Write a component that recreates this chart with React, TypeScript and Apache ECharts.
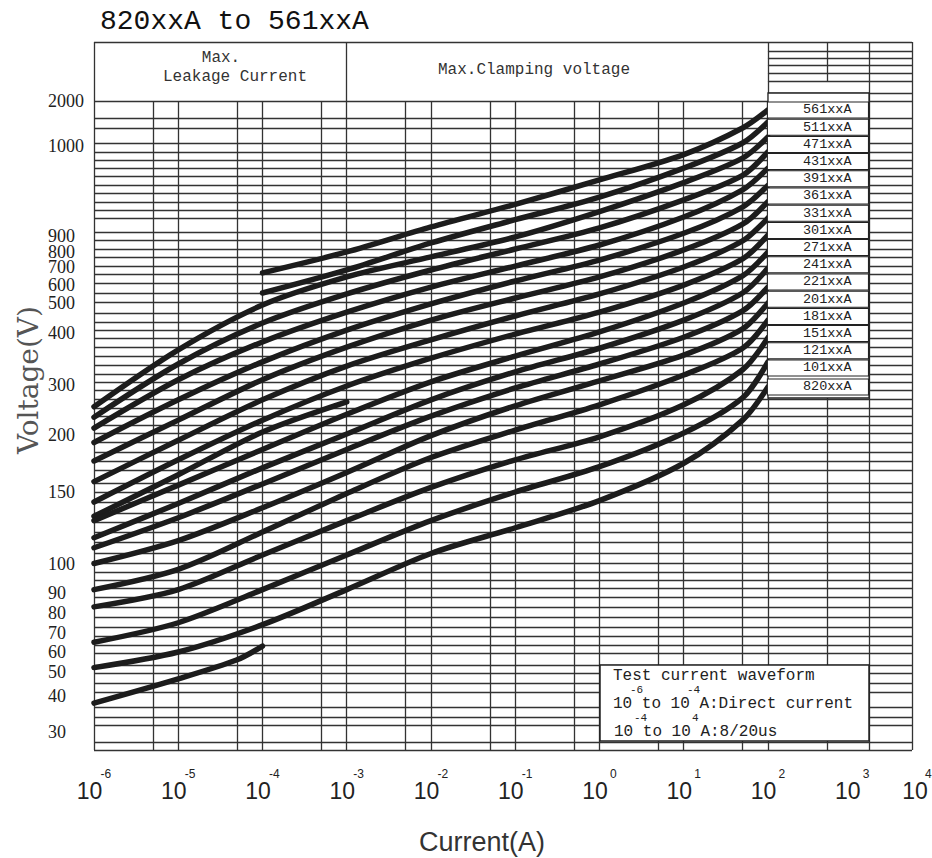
import React, { useEffect, useRef } from "react";
import * as echarts from "echarts";

// ---- data ----
// current sample points (A)
const currentA = [1e-6, 1e-5, 1e-4, 1e-3, 1e-2, 1e-1, 1, 10, 50, 100];

const modelNames = [
  "561xxA", "511xxA", "471xxA", "431xxA", "391xxA", "361xxA", "331xxA", "301xxA", "271xxA",
  "241xxA", "221xxA", "201xxA", "181xxA", "151xxA", "121xxA", "101xxA", "820xxA",
];

// voltage (V) read at each current point
const v561 = [null, null, 666, 797, 910, 935, 962, 990, 1393, 1798];
const v511 = [null, null, 554, 683, 855, 918, 943, 975, 1056, 1528];
const v471 = [256, 367, 493, 643, 765, 894, 927, 959, 986, 1191];
const v431 = [235, 340, 432, 549, 683, 816, 909, 940, 967, 993];
const v391 = [213, 310, 382, 469, 586, 706, 842, 921, 951, 975];
const v361 = [193, 270, 344, 408, 497, 620, 745, 903, 932, 956];
const v331 = [177, 229, 310, 372, 442, 527, 643, 810, 913, 938];
const v301 = [159, 195, 270, 336, 386, 456, 549, 700, 868, 920];
const v271 = [143, 178, 229, 298, 351, 397, 469, 597, 752, 901];
const v241 = [130, 156, 187, 241, 306, 355, 402, 500, 649, 797];
const v221 = [118, 142, 171, 201, 270, 325, 370, 442, 554, 694];
const v201 = [111, 132, 157, 187, 237, 294, 340, 391, 473, 586];
const v181 = [100, 116, 139, 167, 199, 258, 308, 357, 412, 500];
const v151 = [91, 98, 122, 149, 180, 209, 260, 319, 370, 442];
const v121 = [83, 91, 106, 130, 154, 178, 198, 260, 329, 390];
const v101 = [65, 75, 91, 106, 130, 150, 172, 203, 274, 344];
const v820 = [52, 60, 74, 91, 107, 125, 144, 175, 229, 296];

// two leakage-only branches
const leakUpperCurrent = [1e-6, 1e-5, 1e-4, 1e-3];
const leakUpperVolts = [133, 165, 205, 266];
const leakLowerCurrent = [1e-6, 1e-5, 5e-5, 1e-4];
const leakLowerVolts = [38, 47, 56, 63];

// printed voltage scale: tick label values and their level on the (non-uniform) scale
const yTickVolts = [30, 40, 50, 60, 70, 80, 90, 100, 150, 200, 300, 400, 500, 600, 700, 800, 900, 1000, 2000];
const yTickLevels = [18.5, 54, 78.5, 98, 117.5, 137, 157.5, 186.5, 258, 315.5, 365, 417.5, 447, 465.5, 483, 498.5, 514, 604.5, 649];

// horizontal rulings of the chart paper (scale levels)
const rulingLevels = [
  649, 632, 622, 607, 598, 590, 582, 574, 565, 557, 548, 540, 532, 518, 510, 501, 493, 484, 476, 467,
  457, 448, 437, 428, 420, 412, 403, 394, 385, 376, 368, 360, 351, 342, 334, 325, 317, 308, 298, 289,
  280, 267, 258, 248, 237, 228, 218, 208, 197, 187, 178, 170, 162, 153, 143, 133, 123, 114, 105, 97,
  85, 77, 67, 58, 43, 33, 25, 8, 0,
];
const tableTopLevels = [699, 692, 685, 677, 669, 657];
const minorCurrentRulings = [5e-6, 1e-5, 5e-5, 1e-4, 5e-4, 5e-3, 1e-2, 5e-2, 1e-1, 5e-1, 1, 5, 10, 50];

const X_MIN = 1e-6;
const X_MAX = 5130;
const X_TABLE = 100;
const X_TABLE_COL = 500;
const X_TABLE_COL2 = 1600;
const LEVEL_TOP = 708;
const LEVEL_PLOT_TOP = 649;

function voltToLevel(v: number): number {
  const n = yTickVolts.length;
  let i = 0;
  while (i < n - 2 && v > yTickVolts[i + 1]) i++;
  const v0 = yTickVolts[i], v1 = yTickVolts[i + 1];
  const p0 = yTickLevels[i], p1 = yTickLevels[i + 1];
  return p0 + ((v - v0) / (v1 - v0)) * (p1 - p0);
}

const curves = [v561, v511, v471, v431, v391, v361, v331, v301, v271, v241, v221, v201, v181, v151, v121, v101, v820];

const seg = (a: number[], b: number[]) => [{ coord: a }, { coord: b }];

export default function App() {
  const ref = useRef<HTMLDivElement>(null);
  useEffect(() => {
    const chart = echarts.init(ref.current!, null, { renderer: "svg" });

    const rulings: any[] = [];
    rulingLevels.forEach((p) => rulings.push(seg([X_MIN, p], [X_MAX, p])));
    rulings.push(seg([X_MIN, LEVEL_TOP], [X_MAX, LEVEL_TOP]));
    tableTopLevels.forEach((p) => rulings.push(seg([X_TABLE, p], [X_MAX, p])));
    [X_MIN, 1e-3, X_TABLE, X_TABLE_COL2, X_MAX].forEach((x) => rulings.push(seg([x, 0], [x, LEVEL_TOP])));
    minorCurrentRulings.forEach((x) => rulings.push(seg([x, 0], [x, LEVEL_PLOT_TOP])));
    rulings.push(seg([X_TABLE_COL, 0], [X_TABLE_COL, 352]));
    rulings.push(seg([X_TABLE_COL, 669], [X_TABLE_COL, LEVEL_TOP]));

    const lineStyle = { color: "#1c1c1c", width: 5.5, cap: "round", join: "round" };

    const curveSeries = curves.map((vals, i) => ({
      type: "line",
      name: modelNames[i],
      z: 5,
      clip: false,
      silent: true,
      smooth: 0.3,
      showSymbol: false,
      symbol: "none",
      lineStyle,
      emphasis: { disabled: true },
      labelLayout: { moveOverlap: "shiftY" },
      data: currentA
        .map((x, j) => (vals[j] == null ? null : [x, voltToLevel(vals[j] as number)]))
        .filter((d) => d !== null),
      endLabel: {
        show: true,
        formatter: "{a}",
        distance: 0,
        align: "left",
        verticalAlign: "middle",
        fontFamily: "Liberation Mono",
        fontSize: 13.5,
        lineHeight: 12,
        color: "#222",
        backgroundColor: "#fff",
        borderColor: "#222",
        borderWidth: 1.1,
        padding: [2, 12, 1, 35],
        width: 53,
      },
    }));

    const leakSeries = [
      [leakUpperCurrent, leakUpperVolts],
      [leakLowerCurrent, leakLowerVolts],
    ].map(([xs, vs], k) => ({
      type: "line",
      name: "leak" + k,
      z: 5,
      clip: false,
      silent: true,
      smooth: 0.3,
      showSymbol: false,
      symbol: "none",
      lineStyle,
      emphasis: { disabled: true },
      data: xs.map((x, j) => [x, voltToLevel(vs[j])]),
    }));

    const textColor = "#222";
    const mono = "Liberation Mono";

    const noteText = (text: string, x: number, y: number, size: number, lh: number) => ({
      type: "text",
      z: 7,
      x,
      y,
      style: { text, fontFamily: mono, fontSize: size, lineHeight: lh, fill: "#222", align: "left", verticalAlign: "middle" },
    });

    const option: any = {
      animation: false,
      backgroundColor: "#fff",
      grid: { left: 94, right: 20, top: 40, bottom: 106, containLabel: false, outerBoundsMode: "none" },
      xAxis: {
        type: "log",
        logBase: 10,
        min: X_MIN,
        max: X_MAX,
        splitNumber: 10,
        axisLine: { show: false },
        axisTick: { show: false },
        splitLine: { show: false },
        minorTick: { show: false },
        minorSplitLine: { show: false },
        axisLabel: {
          show: true,
          margin: 15,
          showMinLabel: true,
          showMaxLabel: true,
          hideOverlap: false,
          formatter: (v: number) => {
            const e = Math.round(Math.log10(v));
            if (v > 2000) return `{e|${e}}\n{p| }{b|10}{h| }`;
            return `{e|${e}}\n{b|10}{g| }`;
          },
          rich: {
            e: { fontFamily: "Liberation Sans", fontSize: 12, lineHeight: 14, align: "right", color: textColor },
            b: { fontFamily: "Liberation Sans", fontSize: 23, lineHeight: 20, color: textColor },
            g: { fontFamily: "Liberation Sans", fontSize: 23, lineHeight: 20, width: 9 },
            h: { fontFamily: "Liberation Sans", fontSize: 23, lineHeight: 20, width: 4 },
            p: { fontFamily: "Liberation Sans", fontSize: 23, lineHeight: 20, width: 10 },
          },
        },
      },
      yAxis: {
        type: "value",
        min: -2,
        max: 710,
        axisLine: { show: false },
        axisTick: { show: false },
        splitLine: { show: false },
        axisLabel: {
          customValues: yTickLevels,
          align: "left",
          margin: 46,
          fontFamily: "Liberation Serif",
          fontSize: 18,
          lineHeight: 14,
          color: textColor,
          formatter: (v: number) => {
            let best = 0;
            yTickLevels.forEach((p, i) => {
              if (Math.abs(p - v) < Math.abs(yTickLevels[best] - v)) best = i;
            });
            return String(yTickVolts[best]);
          },
        },
      },
      series: [
        {
          type: "line",
          name: "rulings",
          data: [],
          z: 1,
          silent: true,
          markLine: {
            z: 1,
            silent: true,
            animation: false,
            symbol: ["none", "none"],
            label: { show: false },
            emphasis: { disabled: true },
            lineStyle: { color: "#333", width: 1.3, type: "solid" },
            data: rulings,
          },
        },
        ...leakSeries,
        ...curveSeries,
      ],
      graphic: [
        // blank label column of the type table
        {
          type: "rect",
          z: 3,
          silent: true,
          shape: { x: 768, y: 93, width: 101, height: 305 },
          style: { fill: "#fff", stroke: "#222", lineWidth: 1.3 },
        },
        {
          type: "text",
          z: 6,
          x: 100,
          y: 21,
          style: { text: "820xxA to 561xxA", fontFamily: mono, fontSize: 28, fill: "#111", align: "left", verticalAlign: "middle" },
        },
        {
          type: "text",
          z: 6,
          x: 221,
          y: 58,
          style: { text: "Max.", fontFamily: mono, fontSize: 16, lineHeight: 16, fill: "#333", align: "center", verticalAlign: "middle" },
        },
        {
          type: "text",
          z: 6,
          x: 235,
          y: 77,
          style: { text: "Leakage Current", fontFamily: mono, fontSize: 16, lineHeight: 16, fill: "#333", align: "center", verticalAlign: "middle" },
        },
        {
          type: "text",
          z: 6,
          x: 534,
          y: 70,
          style: { text: "Max.Clamping voltage", fontFamily: mono, fontSize: 16, fill: "#333", align: "center", verticalAlign: "middle" },
        },
        {
          type: "text",
          z: 6,
          x: 28,
          y: 380,
          rotation: Math.PI / 2,
          style: { text: "Voltage(V)", fontFamily: "DejaVu Serif", fontSize: 28, fill: "#555", align: "center", verticalAlign: "middle" },
        },
        {
          type: "text",
          z: 6,
          x: 482,
          y: 842,
          style: { text: "Current(A)", fontFamily: "Liberation Sans", fontSize: 27, fill: "#333", align: "center", verticalAlign: "middle" },
        },
        // test waveform note
        {
          type: "rect",
          z: 6,
          silent: true,
          shape: { x: 600, y: 665, width: 269, height: 76 },
          style: { fill: "#fff", stroke: "#222", lineWidth: 1.5 },
        },
        noteText("Test current waveform", 613, 676, 16, 16),
        noteText("-6", 630, 690, 11, 11),
        noteText("-4", 687, 690, 11, 11),
        noteText("10 to 10 A:Direct current", 613, 704, 16, 16),
        noteText("-4", 634, 718, 11, 11),
        noteText("4", 692, 718, 11, 11),
        noteText("10 to 10 A:8/20us", 614, 732, 16, 16),
      ],
    };

    chart.setOption(option);
    return () => chart.dispose();
  }, []);

  return (
    <div
      ref={ref}
      style={{ position: "fixed", left: 0, top: 0, width: 932, height: 858, background: "#fff" }}
    />
  );
}
